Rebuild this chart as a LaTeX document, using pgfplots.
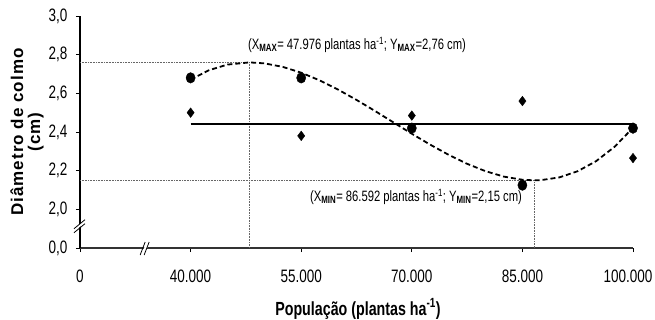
\documentclass[border=0pt]{standalone}
\usepackage{fontspec}
\setmainfont{Liberation Sans}[FakeStretch=0.75]
\newfontfamily\ylfont{Liberation Sans}[LetterSpace=6]
\usepackage{pgfplots}
\pgfplotsset{compat=1.18}
\begin{document}
\begin{tikzpicture}
\useasboundingbox (0,0) rectangle (655bp,320bp);
\begin{axis}[
 at={(80bp,72bp)}, anchor=south west,
 scale only axis, width=553bp, height=232bp,
 xmin=25000, xmax=100000, ymin=1.8, ymax=3.0,
 axis x line=bottom, axis y line=left,
 axis line style={-, line width=1.1pt, black},
 x axis line style={line width=2pt, black!80},
 scaled x ticks=false, scaled y ticks=false,
 xtick={25000,40000,55000,70000,85000,100000},
 xticklabels={0,40.000,55.000,70.000,85.000,\hspace*{-10bp}100.000},
 ytick={1.8,2.0,2.2,2.4,2.6,2.8,3.0},
 yticklabels={{0,0},{2,0},{2,2},{2,4},{2,6},{2,8},{3,0}},
 tick align=outside, major tick length=4bp,
 tick style={black, line width=0.8pt},
 tick label style={font=\fontsize{18bp}{20bp}\selectfont},
 xticklabel style={yshift=-14bp},
 yticklabel style={xshift=-5bp},
 clip=false,
]
% reference dotted lines
\addplot[black!60, densely dotted, line width=0.6pt] coordinates {(25000,2.76)(47976,2.76)(47976,1.8)};
\addplot[black!60, densely dotted, line width=0.6pt] coordinates {(25000,2.15)(86592,2.15)(86592,1.8)};
% mean line
\addplot[black, line width=2.2pt] coordinates {(40000,2.44)(100000,2.44)};
% cubic fit
\addplot[black, line width=1.8pt, dash pattern=on 5pt off 3pt] coordinates {
(40000,2.671)(42500,2.7197)(45000,2.7486)(47976,2.760)(50000,2.7551)(52500,2.7368)
(55000,2.7068)(57500,2.667)(60000,2.6194)(62500,2.566)(65000,2.5089)(67500,2.4499)
(70000,2.391)(72500,2.3344)(75000,2.2819)(77500,2.2355)(80000,2.1973)(82500,2.1691)
(85000,2.153)(86592,2.150)(87500,2.151)(90000,2.1651)(92500,2.1972)(95000,2.2493)
(97500,2.3235)(100000,2.4217)};
% observed points
\addplot[only marks, mark=*, mark size=4.6bp, mark options={yscale=1.15}, black] coordinates {
(40000,2.68)(55000,2.68)(70000,2.42)(85000,2.125)(100000,2.42)};
\addplot[only marks, mark=diamond*, mark size=4.8bp, black] coordinates {
(40000,2.50)(55000,2.38)(70000,2.485)(85000,2.56)(100000,2.265)};
% axis breaks
\fill[white] ([xshift=-6bp,yshift=-4bp]axis cs:25000,1.905) -- ([xshift=4bp,yshift=4bp]axis cs:25000,1.905) -- ([xshift=4bp,yshift=7bp]axis cs:25000,1.905) -- ([xshift=-6bp,yshift=-1bp]axis cs:25000,1.905) -- cycle;
\draw[black, line width=0.8pt] ([xshift=-6bp,yshift=-5bp]axis cs:25000,1.905) -- ([xshift=5bp,yshift=4bp]axis cs:25000,1.905);
\draw[black, line width=0.8pt] ([xshift=-6bp,yshift=-1bp]axis cs:25000,1.905) -- ([xshift=5bp,yshift=8bp]axis cs:25000,1.905);
\fill[white] ([xshift=-2bp,yshift=-5bp]axis cs:33700,1.8) -- ([xshift=2bp,yshift=5bp]axis cs:33700,1.8) -- ([xshift=5bp,yshift=5bp]axis cs:33700,1.8) -- ([xshift=1bp,yshift=-5bp]axis cs:33700,1.8) -- cycle;
\draw[black, line width=0.8pt] ([xshift=-4bp,yshift=-7bp]axis cs:33700,1.8) -- ([xshift=1bp,yshift=6bp]axis cs:33700,1.8);
\draw[black, line width=0.8pt] ([xshift=0bp,yshift=-7bp]axis cs:33700,1.8) -- ([xshift=5bp,yshift=6bp]axis cs:33700,1.8);
\end{axis}
% annotations and axis titles
\node[font=\fontsize{15bp}{17bp}\selectfont] at (357bp,275bp)
 {(X\textsubscript{\textbf{MAX}}= 47.976 plantas ha\textsuperscript{-1}; Y\textsubscript{\textbf{MAX}}=2,76 cm)};
\node[font=\fontsize{15bp}{17bp}\selectfont] at (416bp,123bp)
 {(X\textsubscript{\textbf{MIN}}= 86.592 plantas ha\textsuperscript{-1}; Y\textsubscript{\textbf{MIN}}=2,15 cm)};
\node[font=\fontsize{19bp}{21bp}\selectfont\bfseries] at (358bp,11bp)
 {População (plantas ha\textsuperscript{-1})};
\node[rotate=90, align=center, font=\ylfont\fontsize{17bp}{17bp}\selectfont\bfseries] at (27bp,188bp)
 {Diâmetro de colmo\\(cm)};
\end{tikzpicture}
\end{document}
